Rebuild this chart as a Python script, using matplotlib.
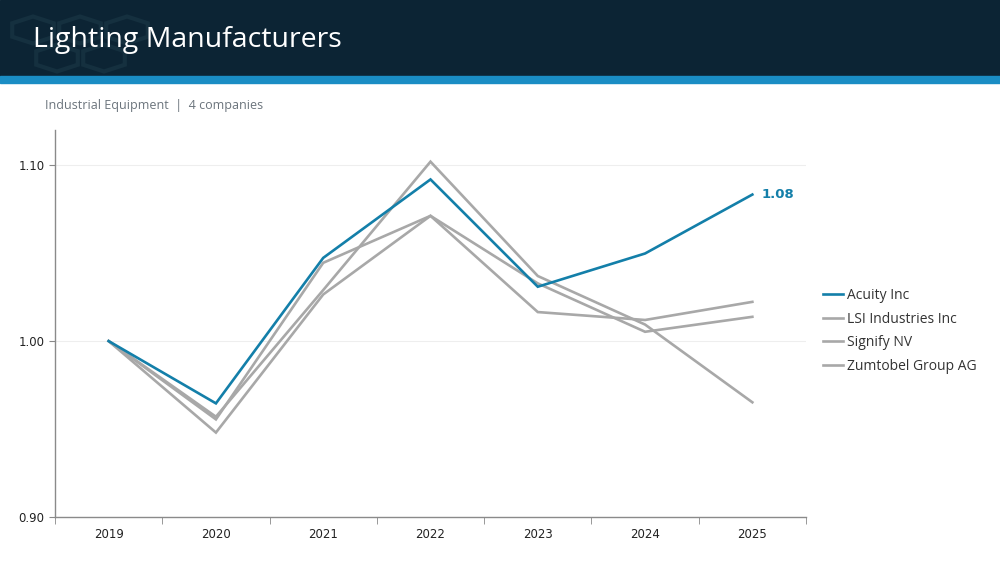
import matplotlib
matplotlib.use("Agg")
import matplotlib.pyplot as plt
from matplotlib.patches import Rectangle, RegularPolygon
from matplotlib.lines import Line2D

years = ["2019", "2020", "2021", "2022", "2023", "2024", "2025"]
acuity = [1.000, 0.9646, 1.0473, 1.0919, 1.0309, 1.0498, 1.0833]
lsi = [1.000, 0.9570, 1.0290, 1.1020, 1.0370, 1.0094, 0.9652]
signify = [1.000, 0.9555, 1.0445, 1.0712, 1.0328, 1.0053, 1.0138]
zumtobel = [1.000, 0.9480, 1.0265, 1.0712, 1.0165, 1.0120, 1.0223]
names = ["Acuity Inc", "LSI Industries Inc", "Signify NV", "Zumtobel Group AG"]
yticks = [0.90, 1.00, 1.10]

BLUE = "#137fa9"
GRAY = "#a8a8a8"
NAVY = "#0c2434"

fig = plt.figure(figsize=(10, 5.62), dpi=100)
W, H = 1000, 562

# header band
fig.patches.append(Rectangle((0, 1 - 76 / H), 1, 76 / H, transform=fig.transFigure,
                             color=NAVY, zorder=0))
fig.patches.append(Rectangle((0, 1 - 83 / H), 1, 7 / H, transform=fig.transFigure,
                             color="#1a8dc4", zorder=0))
# faint hexagon decoration
for cx, cy in [(33, 30), (80, 30), (57, 58), (104, 58), (127, 30)]:
    fig.patches.append(RegularPolygon((cx / W, 1 - cy / H), numVertices=6, radius=24 / W,
                                      orientation=0, transform=fig.transFigure,
                                      facecolor="none", edgecolor="#15303f", lw=3, zorder=0.5))
fig.text(33 / W, 1 - 40 / H, "Lighting Manufacturers", color="white", fontsize=20.5,
         family="Open Sans", fontweight="medium", va="center", ha="left")
fig.text(45 / W, 1 - 106 / H, "Industrial Equipment  |  4 companies", color="#6b747c",
         fontsize=9, family="Open Sans", fontweight="medium", va="center", ha="left")

ax = fig.add_axes([55 / W, 1 - 517 / H, 751 / W, 387 / H])
x = list(range(len(years)))
for vals in [zumtobel, signify, lsi]:
    ax.plot(x, vals, color=GRAY, lw=1.9, solid_joinstyle="miter", zorder=2)
ax.plot(x, acuity, color=BLUE, lw=1.9, solid_joinstyle="miter", zorder=3)
ax.text(x[-1] + 0.09, acuity[-1], f"{acuity[-1]:.2f}", color=BLUE, fontsize=9.5,
        fontweight="bold", va="center", ha="left")

ax.set_xlim(-0.5, len(years) - 0.5)
ax.set_ylim(0.90, 1.12)
ax.set_yticks(yticks)
ax.set_yticklabels([f"{v:.2f}" for v in yticks])
ax.set_xticks(x)
ax.set_xticklabels(years)
ax.set_xticks([i + 0.5 for i in range(-1, len(years))], minor=True)
ax.tick_params(axis="x", which="major", length=0, pad=8, labelsize=8.5)
ax.tick_params(axis="x", which="minor", length=5, color="#888888", direction="out")
ax.tick_params(axis="y", length=4, color="#888888", labelsize=8.5)
for t in ax.get_yticklabels() + ax.get_xticklabels():
    t.set_color("#222222")
for s in ["top", "right"]:
    ax.spines[s].set_visible(False)
for s in ["left", "bottom"]:
    ax.spines[s].set_color("#8a8a8a")
    ax.spines[s].set_linewidth(1.0)
ax.grid(axis="y", color="#eeeeee", lw=0.8)
ax.set_axisbelow(True)

handles = [Line2D([0], [0], color=BLUE, lw=1.9)] + [Line2D([0], [0], color=GRAY, lw=1.9)] * 3
leg = fig.legend(handles, names, loc="center left", bbox_to_anchor=(810 / W, 1 - 331 / H),
                 frameon=False, handlelength=1.5, handletextpad=0.25,
                 labelspacing=0.62, prop={"family": "Open Sans", "size": 10})
for t in leg.get_texts():
    t.set_color("#333333")

fig.savefig("out.png", dpi=100)
